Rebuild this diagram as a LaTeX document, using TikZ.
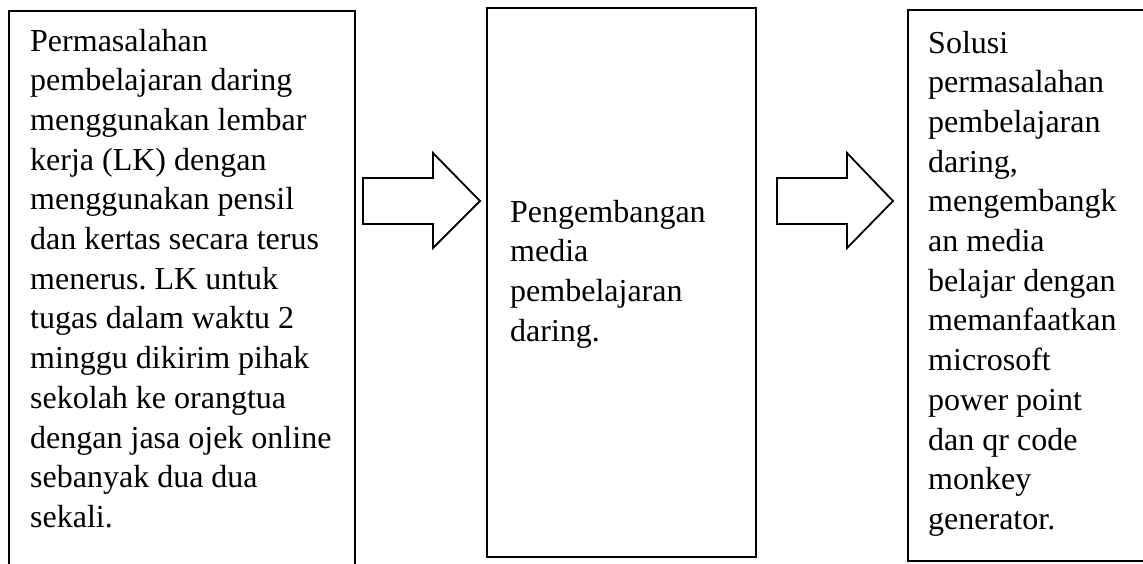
\documentclass[tikz,border=0pt]{standalone}
\usepackage{fontspec}
\setmainfont{Liberation Serif}
\frenchspacing
\begin{document}
\begin{tikzpicture}[x=1pt,y=-1pt,
  frame/.style={draw=black,line width=2.2pt},
  blockarrow/.style={draw=black,fill=white,line width=1.8pt,line join=miter},
  txt/.style={anchor=base west,inner sep=0pt,font=\fontsize{32}{39.7}\selectfont}]
\useasboundingbox[fill=white] (0,0) rectangle (1143,563);
% frames
\draw[frame] (9,575) -- (9,11) -- (355,11) -- (355,575);
\draw[frame] (487,8) rectangle (756,557);
\draw[frame] (1155,10) -- (908,10) -- (908,561) -- (1155,561);
% block arrows
\draw[blockarrow] (363,178) -- (433,178) -- (433,153) -- (480,201) -- (433,248) -- (433,224) -- (363,224) -- cycle;
\draw[blockarrow] (777,178) -- (847,178) -- (847,153) -- (893,201) -- (847,248) -- (847,224) -- (777,224) -- cycle;
% texts
\node[txt] (left) at (30,51) {\begin{tabular}[t]{@{}l@{}}
Permasalahan\\
pembelajaran daring\\
menggunakan lembar\\
kerja (LK) dengan\\
menggunakan pensil\\
dan kertas secara terus\\
menerus. LK untuk\\
tugas dalam waktu 2\\
minggu dikirim pihak\\
sekolah ke orangtua\\
dengan jasa ojek online\\
sebanyak dua dua\\
sekali.\end{tabular}};
\node[txt] (mid) at (510,222) {\begin{tabular}[t]{@{}l@{}}
Pengembangan\\
media\\
pembelajaran\\
daring.\end{tabular}};
\node[txt] (right) at (928,53) {\begin{tabular}[t]{@{}l@{}}
Solusi\\
permasalahan\\
pembelajaran\\
daring,\\
mengembangk\\
an media\\
belajar dengan\\
memanfaatkan\\
microsoft\\
power point\\
dan qr code\\
monkey\\
generator.\end{tabular}};
\end{tikzpicture}
\end{document}
